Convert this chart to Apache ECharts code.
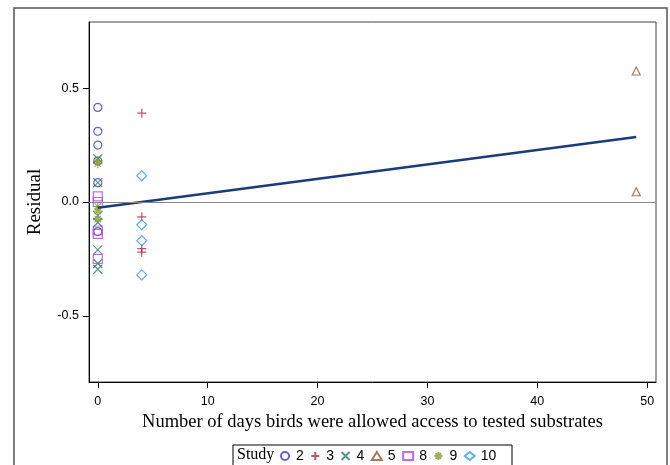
<!DOCTYPE html>
<html>
<head>
<meta charset="utf-8">
<script src="https://cdn.jsdelivr.net/npm/echarts@6/dist/echarts.min.js"></script>
<style>
html,body{margin:0;padding:0;background:#fff;}
#chart{width:670px;height:465px;}
</style>
</head>
<body>
<div id="chart"></div>
<script>
// Study data: [days, residual]
const study2 = [[0,0.415],[0,0.31],[0,0.25],[0,0.18],[0,0.085],[0,-0.13]];
const study3 = [[4,0.39],[4,-0.065],[4,-0.205],[4,-0.22]];
const study4 = [[0,0.19],[0,0.085],[0,-0.06],[0,-0.09],[0,-0.21],[0,-0.27],[0,-0.295]];
const study5 = [[49,0.575],[49,0.045]];
const study8 = [[0,0.025],[0,0.0],[0,-0.125],[0,-0.14],[0,-0.25]];
const study9 = [[0,0.18],[0,0.168],[0,-0.02],[0,-0.04],[0,-0.075]];
const study10 = [[4,0.115],[4,-0.1],[4,-0.17],[4,-0.32]];
const fitX = [0,49];
const fitY = [-0.025,0.285];
const xTicks = [0,10,20,30,40,50];
const yTicks = [-0.5,0,0.5];
const studyNames = ['2','3','4','5','8','9','10'];

const chart = echarts.init(document.getElementById('chart'));
const sym = {
  plus: 'path://M5,0L5,10M0,5L10,5',
  cross: 'path://M0,0L10,10M10,0L0,10',
  star: 'path://M5,0L5,10M0,5L10,5M1.5,1.5L8.5,8.5M8.5,1.5L1.5,8.5'
};
function sc(name, data, color, symbol, size){
  return {
    name: name, type: 'scatter', data: data, symbol: symbol, symbolSize: size,
    itemStyle: {color: 'rgba(0,0,0,0)', borderColor: color, borderWidth: 1.2},
    emphasis: {disabled: true}, z: 3
  };
}
const seriesData = [study2, study3, study4, study5, study8, study9, study10];
const colors = ['#3a3ad0','#b0283c','#2a7a68','#8a5a2a','#b048e0','#8a9a2a','#3a9af0'];
const symbols = ['circle', sym.plus, sym.cross, 'triangle', 'rect', sym.star, 'diamond'];
const sizes = [8, 9, 9, 8, 9, 9, 10];

const series = [{
  type: 'line', data: fitX.map((x,i)=>[x, fitY[i]]), symbol: 'none',
  lineStyle: {color: '#1a3c7c', width: 2.5}, z: 4, silent: true,
  markLine: {silent: true, symbol: 'none', label: {show: false},
    lineStyle: {color: '#888', width: 1, type: 'solid'}, data: [{yAxis: 0}]}
}];
studyNames.forEach((n,i)=>series.push(sc(n, seriesData[i], colors[i], symbols[i], sizes[i])));

chart.setOption({
  animation: false,
  backgroundColor: '#fff',
  grid: {left: 89, top: 22, right: 14, bottom: 83, show: true, borderColor: '#444', borderWidth: 1},
  xAxis: {
    type: 'value', min: -0.8, max: 50.8,
    name: 'Number of days birds were allowed access to tested substrates',
    nameLocation: 'middle', nameGap: 27,
    nameTextStyle: {fontFamily: 'Liberation Serif', fontSize: 18.5, color: '#000'},
    axisLine: {show: true, onZero: false, lineStyle: {color: '#000'}},
    axisTick: {show: true, inside: false, customValues: xTicks, length: 6, lineStyle: {color: '#000'}},
    axisLabel: {customValues: xTicks, fontFamily: 'Liberation Sans', fontSize: 12.5, color: '#000', margin: 13},
    splitLine: {show: false}
  },
  yAxis: {
    type: 'value', min: -0.79, max: 0.79,
    name: 'Residual', nameLocation: 'middle', nameGap: 44,
    nameTextStyle: {fontFamily: 'Liberation Serif', fontSize: 19, color: '#000'},
    axisLine: {show: true, onZero: false, lineStyle: {color: '#000'}},
    axisTick: {show: true, inside: false, customValues: yTicks, length: 6, lineStyle: {color: '#000'}},
    axisLabel: {customValues: yTicks, fontFamily: 'Liberation Sans', fontSize: 12.5, color: '#000', margin: 10,
      formatter: v => v.toFixed(1)},
    splitLine: {show: false}
  },
  legend: {
    data: studyNames, left: 280, top: 449, padding: 0, itemGap: 6.5,
    itemWidth: 10, itemHeight: 8, selectedMode: false,
    textStyle: {fontFamily: 'Liberation Sans', fontSize: 14, color: '#000', padding: [0,0,0,1]}
  },
  graphic: [
    {type: 'rect', shape: {x: 14, y: 8, width: 653, height: 470}, style: {fill: 'none', stroke: '#555', lineWidth: 1.5}, silent: true},
    {type: 'rect', shape: {x: 233, y: 445, width: 279, height: 30}, style: {fill: 'none', stroke: '#000', lineWidth: 1}, silent: true},
    {type: 'text', x: 237, y: 447, style: {text: 'Study', font: '16px "Liberation Serif"', fill: '#000'}, silent: true}
  ],
  series: series
});
</script>
</body>
</html>
